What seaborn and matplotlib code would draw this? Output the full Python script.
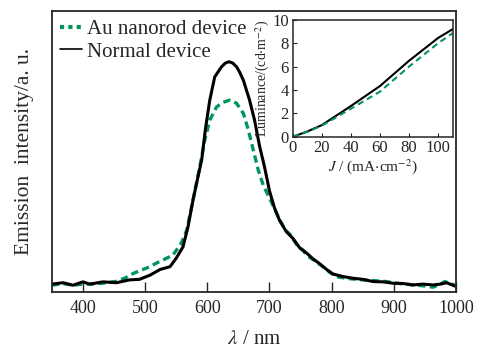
import numpy as np
import pandas as pd
import matplotlib
matplotlib.use("Agg")
import matplotlib.pyplot as plt
from matplotlib.lines import Line2D
import seaborn as sns

# --- data ---
wl_normal = [350, 368, 384, 400, 411, 432, 454, 475, 491, 508, 524, 540, 550, 561, 569,
             577, 585, 591, 597, 604, 612, 623, 629, 635, 641, 647, 652, 658, 668, 676,
             684, 692, 700, 708, 716, 727, 738, 749, 760, 770, 781, 792, 802, 818, 834,
             850, 867, 883, 899, 915, 931, 947, 963, 975, 985, 998]
int_normal = [0.028, 0.033, 0.024, 0.036, 0.028, 0.036, 0.033, 0.043, 0.045, 0.060, 0.080,
              0.090, 0.120, 0.161, 0.232, 0.327, 0.410, 0.470, 0.580, 0.683, 0.766, 0.802,
              0.815, 0.820, 0.815, 0.802, 0.783, 0.754, 0.683, 0.612, 0.520, 0.446, 0.360,
              0.300, 0.256, 0.215, 0.190, 0.156, 0.138, 0.118, 0.100, 0.080, 0.064, 0.055,
              0.049, 0.045, 0.037, 0.036, 0.031, 0.030, 0.025, 0.028, 0.025, 0.028, 0.033,
              0.021]

wl_au = [350, 368, 384, 400, 416, 435, 454, 468, 481, 494, 508, 520, 529, 545, 558, 567,
         577, 588, 596, 604, 615, 625, 636, 647, 658, 666, 674, 682, 690, 700, 714, 725,
         733, 745, 754, 760, 775, 786, 797, 808, 830, 850, 870, 888, 910, 931, 947, 963,
         975, 982, 990, 998]
int_au = [0.024, 0.030, 0.024, 0.028, 0.028, 0.032, 0.038, 0.050, 0.066, 0.078, 0.090,
          0.105, 0.114, 0.132, 0.173, 0.220, 0.327, 0.446, 0.541, 0.612, 0.659, 0.675,
          0.683, 0.672, 0.636, 0.577, 0.505, 0.434, 0.380, 0.335, 0.268, 0.222, 0.205,
          0.165, 0.149, 0.130, 0.108, 0.090, 0.070, 0.054, 0.047, 0.043, 0.040, 0.037,
          0.030, 0.025, 0.022, 0.017, 0.028, 0.037, 0.030, 0.025]

j_vals = [0, 10, 20, 40, 60, 80, 100, 110]
lum_normal = [0, 0.45, 1.0, 2.63, 4.34, 6.5, 8.45, 9.2]
lum_au = [0, 0.42, 0.95, 2.4, 3.86, 6.0, 8.0, 8.86]

GREEN = "#00965a"

sns.set_style("ticks")
plt.rcParams["font.family"] = ["Liberation Serif", "DejaVu Serif"]
plt.rcParams["mathtext.fontset"] = "stix"

fig = plt.figure(figsize=(4.8, 3.48), dpi=100)
ax = fig.add_axes([0.108, 0.161, 0.842, 0.807])

df_au = pd.DataFrame({"wl": wl_au, "I": int_au})
df_n = pd.DataFrame({"wl": wl_normal, "I": int_normal})
sns.lineplot(data=df_au, x="wl", y="I", ax=ax, color=GREEN, lw=2.4,
             linestyle=(0, (2.2, 1.3)))
sns.lineplot(data=df_n, x="wl", y="I", ax=ax, color="black", lw=2.2)

ax.set_xlim(350, 1000)
ax.set_ylim(0, 1)
ax.set_xticks([400, 500, 600, 700, 800, 900, 1000])
ax.set_yticks([])
ax.tick_params(axis="x", direction="in", length=7, width=1, labelsize=13, pad=6)
for s in ax.spines.values():
    s.set_linewidth(1.3)
ax.set_xlabel(r"$\lambda$ / nm", fontsize=15, labelpad=9)
ax.set_ylabel("Emission  intensity/a. u.", fontsize=15.5, labelpad=13)

handles = [Line2D([], [], color=GREEN, lw=3, linestyle=(0, (1, 1))),
           Line2D([], [], color="black", lw=1.2)]
ax.legend(handles, ["Au nanorod device", "Normal device"], loc="upper left",
          frameon=False, fontsize=15, handlelength=1.05, handletextpad=0.25,
          labelspacing=0.15, borderaxespad=0.2, borderpad=0.2)

# --- inset ---
ins = fig.add_axes([0.61, 0.607, 0.333, 0.336])
df_j = pd.DataFrame({"J": j_vals, "n": lum_normal, "au": lum_au})
sns.lineplot(data=df_j, x="J", y="n", ax=ins, color="black", lw=1.5)
sns.lineplot(data=df_j, x="J", y="au", ax=ins, color=GREEN, lw=1.5,
             linestyle=(0, (3, 2)))
ins.set_xlim(0, 110)
ins.set_ylim(0, 10)
ins.set_xticks([0, 20, 40, 60, 80, 100])
ins.set_yticks([0, 2, 4, 6, 8, 10])
ins.tick_params(axis="x", direction="in", length=3, labelsize=12, pad=2)
ins.tick_params(axis="y", direction="in", length=3, labelsize=12, pad=3)
for s in ins.spines.values():
    s.set_linewidth(1.1)
ins.set_xlabel(r"$J$ / (mA$\cdot$cm$^{-2}$)", fontsize=11, labelpad=1)
ins.set_ylabel(r"Luminance/(cd$\cdot$m$^{-2}$)", fontsize=10, labelpad=0)

fig.savefig("out.png", dpi=100)
